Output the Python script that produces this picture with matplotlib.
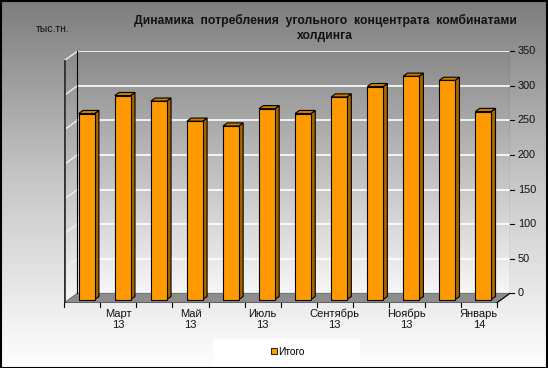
import numpy as np
import matplotlib
matplotlib.use('Agg')
import matplotlib.pyplot as plt
from matplotlib.colors import LinearSegmentedColormap
from matplotlib.patches import Polygon, Patch, Rectangle

plt.rcParams['font.family'] = ['Liberation Sans', 'DejaVu Sans']

# data (тыс.тн.)
categories = ['Февраль\n13', 'Март\n13', 'Апрель\n13', 'Май\n13', 'Июнь\n13', 'Июль\n13',
              'Август\n13', 'Сентябрь\n13', 'Октябрь\n13', 'Ноябрь\n13', 'Декабрь\n13', 'Январь\n14']
values = [269, 295, 287, 258, 251, 276, 269, 293, 308, 323, 317, 272]
y_ticks = [0, 50, 100, 150, 200, 250, 300, 350]
series_name = 'Итого'
unit_label = 'тыс.тн.'
title = 'Динамика  потребления  угольного  концентрата  комбинатами\nхолдинга'

# 3d look: depth shift in category units and in value units
DX = 0.361
DY = 13.6
W = 0.22
BAR = '#ff9900'
BAR_SIDE = '#a86400'
BAR_TOP = '#cc7a00'

n = len(values)
top = y_ticks[-1]
grad = np.linspace(0, 1, 256).reshape(-1, 1)

fig = plt.figure(figsize=(5.48, 3.68), dpi=100)

# background gradient
bg = fig.add_axes([0, 0, 1, 1], zorder=0)
bg.imshow(grad, cmap=LinearSegmentedColormap.from_list('bg', ['#7d7d7d', '#c8c8c8', '#ffffff'], ),
          aspect='auto', extent=[0, 1, 0, 1], origin='upper')
bg.add_patch(Rectangle((213 / 548, 0.003), 147 / 548, 28 / 368, fc='white', ec='none', zorder=2))
bg.set_xlim(0, 1)
bg.set_ylim(0, 1)
bg.set_axis_off()

ax = fig.add_axes([0.1173, 0.1774, 0.8133, 0.6832], zorder=1)
ax.patch.set_alpha(0)
wall_cmap = LinearSegmentedColormap.from_list('wall', ['#898989', '#f7f7f7'])

# back wall + left wall
ax.imshow(grad, cmap=wall_cmap, extent=[DX, n + DX, 0, top], aspect='auto', origin='upper', zorder=1)
im = ax.imshow(grad, cmap=wall_cmap, extent=[0, DX, -DY, top], aspect='auto', origin='upper', zorder=1)
im.set_clip_path(Polygon([(0, -DY), (DX, 0), (DX, top), (0, top - DY)], transform=ax.transData))

for v in y_ticks:
    if v > 0:
        ax.plot([DX, n + DX], [v, v], color='white', lw=1.2, zorder=2)
    ax.plot([0, DX], [v - DY, v], color='#f0f0f0', lw=1, zorder=2)

# floor
ax.add_patch(Polygon([(0, -DY), (n, -DY), (n + DX, 0), (DX, 0)], fc='#8c8c8c', ec='#666666', lw=0.6, zorder=2))

# walls / axes edges
ax.plot([0, 0], [-DY, top - DY], color='#333333', lw=2, zorder=3)
ax.plot([DX, DX], [0, top], color='black', lw=0.8, zorder=3)
ax.plot([n + DX, n + DX], [0, top], color='black', lw=0.8, zorder=3)
ax.plot([0, n], [-DY, -DY], color='black', lw=1, zorder=3)
ax.plot([n, n + DX], [-DY, 0], color='black', lw=0.8, zorder=3)

# value axis (right)
for v in y_ticks:
    ax.plot([n + DX, n + DX + 0.11], [v, v], color='black', lw=0.8, clip_on=False, zorder=3)
    ax.text(n + DX + 0.22, v, str(v), ha='left', va='center', fontsize=7.8, color='#111111')

# category axis
for i in range(n + 1):
    ax.plot([i, i], [-DY, -DY - 6], color='black', lw=0.8, clip_on=False, zorder=3)
for i in range(1, n, 2):
    ax.annotate(categories[i], (i + 0.5, -DY), xytext=(0, -6), textcoords='offset pixels',
                ha='center', va='top', fontsize=8, linespacing=1.12, color='#111111',
                annotation_clip=False)

# bars: front faces through ax.bar, then side and top faces
xs = np.arange(n) + 0.5 + DX / 3
ax.bar(xs, values, width=2 * W, bottom=-DY * 2 / 3, color=BAR, edgecolor='black', lw=0.8, zorder=5)
for x, v in zip(xs, values):
    x0, x1 = x - W, x + W
    yb, yt = -DY * 2 / 3, v - DY * 2 / 3
    ax.add_patch(Polygon([(x1, yb), (x1 + DX / 3, yb + DY / 3), (x1 + DX / 3, yt + DY / 3), (x1, yt)],
                         fc=BAR_SIDE, ec='black', lw=0.8, zorder=4))
    ax.add_patch(Polygon([(x0, yt), (x1, yt), (x1 + DX / 3, yt + DY / 3), (x0 + DX / 3, yt + DY / 3)],
                         fc=BAR_TOP, ec='black', lw=0.8, zorder=4))

ax.set_xlim(0, n + DX)
ax.set_ylim(-DY, top)
ax.set_axis_off()

# legend
ax.legend(handles=[Patch(fc=BAR, ec='black', lw=0.6, label=series_name)], loc='center',
          bbox_to_anchor=(288 / 548, 1 - 352 / 368), bbox_transform=fig.transFigure,
          frameon=False, fontsize=7.3, handlelength=0.55, handleheight=0.55, handletextpad=0.2)

fig.text(325 / 548, 1 - 28 / 368, title, ha='center', va='center', fontsize=8.7,
         fontweight='bold', linespacing=1.3, color='#111111')
fig.text(53 / 548, 1 - 29 / 368, unit_label, ha='center', va='center', fontsize=7.5, color='#111111')

fig.patches.append(Rectangle((0.001, 0.001), 0.998, 0.997, fc='none', ec='black', lw=1.5,
                             transform=fig.transFigure, zorder=10))

fig.savefig('out.png', dpi=100)
